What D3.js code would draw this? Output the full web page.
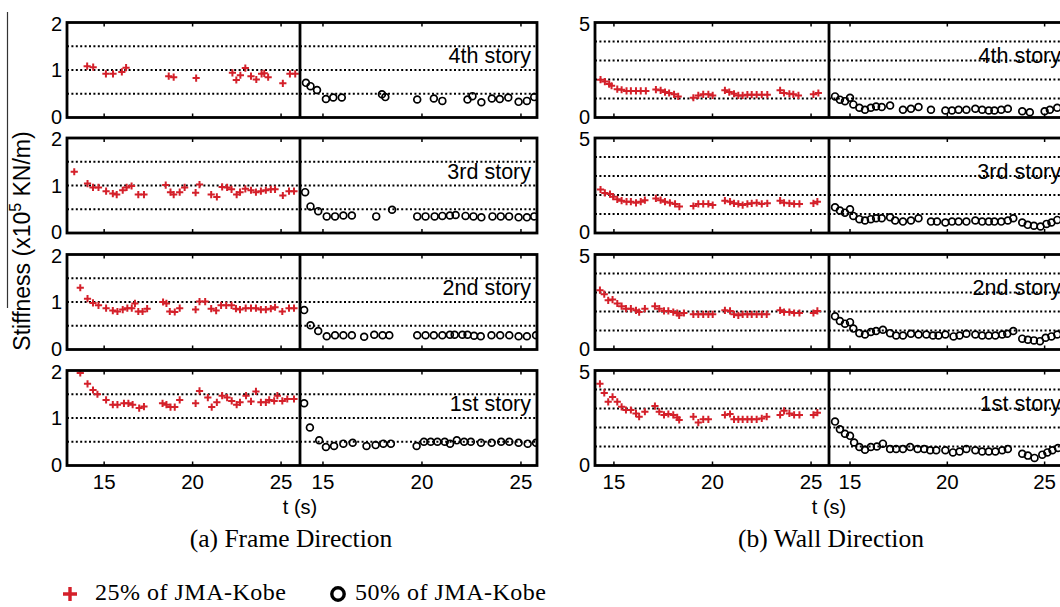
<!DOCTYPE html>
<html><head><meta charset="utf-8">
<script src="https://cdn.jsdelivr.net/npm/d3@7"></script>
<style>body{margin:0;background:#fff}svg{display:block}</style>
</head><body>
<svg id="chart" width="1060" height="607"></svg>
<script>
// ---- data: [time (s), stiffness (x10^5 kN/m)] ----
const stories = ["4th story", "3rd story", "2nd story", "1st story"];
const xTicks = [15, 20, 25];
const frameYTicks = [0, 1, 2];
const frameGrid = [0.5, 1, 1.5];
const wallYTicks = [0, 5];
const wallGrid = [1, 2, 3, 4];
const legendLabels = ["25% of JMA-Kobe", "50% of JMA-Kobe"];

// Frame direction, 25% JMA-Kobe
const frame25_4th = [[14.04,1.08],[14.38,1.06],[15.1,0.92],[15.5,0.92],[16.0,0.96],[16.24,1.05],[18.65,0.87],[18.93,0.85],[20.2,0.83],[22.25,0.94],[22.47,0.79],[22.7,0.89],[22.98,1.04],[23.3,0.87],[23.6,0.80],[23.9,0.92],[24.05,0.93],[24.27,0.85],[25.1,0.72],[25.5,0.92],[25.8,0.92]];
const frame25_3rd = [[13.31,1.29],[14.06,1.04],[14.37,0.96],[14.68,0.96],[15.11,0.88],[15.49,0.83],[15.71,0.81],[16.05,0.90],[16.27,0.96],[16.55,0.99],[16.93,0.81],[17.25,0.81],[18.48,1.01],[18.75,0.86],[18.93,0.81],[19.27,0.86],[19.55,0.96],[20.17,0.85],[20.39,1.02],[21.05,0.81],[21.37,0.76],[21.67,0.97],[21.95,0.96],[22.2,0.92],[22.49,0.81],[22.68,0.86],[22.98,0.93],[23.3,0.90],[23.58,0.86],[23.86,0.88],[24.14,0.90],[24.42,0.92],[24.66,0.92],[25.1,0.79],[25.45,0.88],[25.73,0.88]];
const frame25_2nd = [[13.65,1.30],[14.06,1.07],[14.37,0.98],[14.68,0.93],[15.11,0.87],[15.49,0.82],[15.75,0.80],[16.05,0.84],[16.31,0.87],[16.56,0.87],[16.74,0.97],[16.93,0.80],[17.17,0.80],[17.43,0.86],[18.33,1.0],[18.52,0.97],[18.71,0.80],[18.99,0.79],[19.27,0.87],[20.17,0.84],[20.39,1.01],[20.71,1.01],[21.05,0.86],[21.33,0.82],[21.61,0.93],[21.9,0.93],[22.2,0.93],[22.45,0.86],[22.68,0.84],[23.0,0.87],[23.3,0.87],[23.58,0.87],[23.86,0.84],[24.14,0.84],[24.42,0.86],[24.66,0.89],[25.07,0.80],[25.45,0.87],[25.73,0.87]];
const frame25_1st = [[13.65,1.95],[14.06,1.72],[14.37,1.59],[14.62,1.50],[15.11,1.38],[15.49,1.28],[15.75,1.28],[16.12,1.31],[16.37,1.31],[16.61,1.28],[16.98,1.21],[17.25,1.24],[18.3,1.31],[18.52,1.28],[18.75,1.23],[18.99,1.23],[19.27,1.38],[20.17,1.31],[20.39,1.57],[20.86,1.43],[21.08,1.23],[21.37,1.33],[21.67,1.47],[21.95,1.43],[22.21,1.36],[22.49,1.28],[22.68,1.33],[23.02,1.47],[23.3,1.35],[23.58,1.56],[23.86,1.33],[24.14,1.33],[24.33,1.38],[24.61,1.36],[24.79,1.47],[25.07,1.36],[25.35,1.40],[25.73,1.40]];

// Frame direction, 50% JMA-Kobe
const frame50_4th = [[14.14,0.73],[14.37,0.66],[14.7,0.58],[15.15,0.39],[15.52,0.42],[15.95,0.42],[17.98,0.49],[18.15,0.43],[19.76,0.38],[20.6,0.40],[21.03,0.35],[22.3,0.38],[22.55,0.45],[23.0,0.32],[23.53,0.40],[23.93,0.39],[24.36,0.42],[24.88,0.33],[25.3,0.35],[25.67,0.43]];
const frame50_3rd = [[14.1,0.86],[14.37,0.56],[14.76,0.46],[15.19,0.35],[15.61,0.35],[16.03,0.37],[16.46,0.37],[17.69,0.35],[18.49,0.49],[19.76,0.35],[20.18,0.35],[20.64,0.35],[21.03,0.36],[21.41,0.37],[21.7,0.38],[22.2,0.36],[22.6,0.35],[23.0,0.33],[23.56,0.35],[23.98,0.35],[24.4,0.35],[24.88,0.33],[25.3,0.33],[25.67,0.35]];
const frame50_2nd = [[14.05,0.83],[14.37,0.51],[14.76,0.39],[15.19,0.28],[15.61,0.30],[16.03,0.30],[16.46,0.30],[17.08,0.27],[17.59,0.31],[18.01,0.30],[18.35,0.30],[19.76,0.30],[20.18,0.30],[20.6,0.30],[21.03,0.30],[21.41,0.31],[21.65,0.31],[22.04,0.31],[22.3,0.31],[22.63,0.29],[22.97,0.28],[23.51,0.30],[23.95,0.30],[24.41,0.30],[24.88,0.28],[25.3,0.28],[25.76,0.30]];
const frame50_1st = [[14.05,1.31],[14.34,0.80],[14.81,0.53],[15.15,0.39],[15.56,0.41],[16.03,0.46],[16.5,0.48],[17.2,0.41],[17.66,0.43],[18.05,0.46],[18.43,0.46],[19.73,0.41],[20.1,0.50],[20.44,0.50],[20.78,0.50],[21.15,0.50],[21.42,0.46],[21.76,0.53],[22.13,0.50],[22.47,0.50],[22.98,0.48],[23.52,0.48],[24.0,0.50],[24.41,0.50],[24.88,0.48],[25.34,0.46],[25.76,0.48]];

// Wall direction, 25% JMA-Kobe
const wall25_4th = [[14.32,1.99],[14.54,1.89],[14.76,1.76],[14.88,1.67],[15.17,1.49],[15.39,1.46],[15.64,1.40],[15.86,1.40],[16.12,1.40],[16.36,1.40],[16.62,1.40],[17.13,1.47],[17.37,1.43],[17.59,1.34],[17.8,1.29],[18.05,1.22],[18.26,1.11],[19.03,1.04],[19.28,1.16],[19.53,1.22],[19.79,1.22],[20.01,1.16],[20.63,1.43],[20.85,1.34],[21.09,1.25],[21.31,1.16],[21.53,1.16],[21.77,1.20],[21.99,1.20],[22.24,1.20],[22.5,1.20],[22.78,1.20],[23.43,1.43],[23.63,1.29],[23.9,1.25],[24.1,1.22],[24.36,1.16],[25.12,1.22],[25.37,1.29]];
const wall25_3rd = [[14.32,2.29],[14.54,2.11],[14.8,2.05],[14.96,1.91],[15.17,1.77],[15.39,1.70],[15.64,1.65],[15.86,1.65],[16.12,1.59],[16.36,1.65],[16.57,1.73],[17.13,1.82],[17.37,1.73],[17.59,1.65],[17.84,1.59],[18.1,1.53],[18.32,1.39],[19.03,1.42],[19.28,1.53],[19.53,1.53],[19.79,1.53],[20.01,1.47],[20.63,1.70],[20.89,1.65],[21.09,1.56],[21.31,1.53],[21.53,1.47],[21.77,1.53],[21.99,1.56],[22.24,1.59],[22.5,1.53],[22.78,1.56],[23.43,1.70],[23.63,1.59],[23.9,1.56],[24.14,1.53],[24.41,1.53],[25.12,1.56],[25.32,1.65]];
const wall25_2nd = [[14.29,3.12],[14.51,2.91],[14.71,2.59],[14.93,2.63],[15.17,2.42],[15.39,2.28],[15.61,2.15],[15.86,2.15],[16.12,2.06],[16.28,1.97],[16.57,2.15],[17.08,2.28],[17.3,2.15],[17.54,2.03],[17.76,2.03],[18.01,1.97],[18.21,1.92],[18.31,1.80],[18.55,1.92],[19.03,1.85],[19.28,1.85],[19.53,1.85],[19.79,1.85],[20.01,1.85],[20.63,2.06],[20.89,2.03],[21.09,1.85],[21.31,1.80],[21.53,1.85],[21.77,1.85],[21.99,1.85],[22.24,1.85],[22.5,1.85],[22.75,1.85],[23.43,2.06],[23.63,1.97],[23.9,1.97],[24.14,1.92],[24.41,1.92],[25.12,1.92],[25.32,2.03]];
const wall25_1st = [[14.29,4.30],[14.51,3.82],[14.71,3.35],[14.93,3.61],[15.17,3.35],[15.39,3.09],[15.61,2.92],[15.86,2.92],[16.12,2.74],[16.28,2.57],[16.57,2.83],[17.08,3.13],[17.3,2.83],[17.54,2.66],[17.76,2.71],[18.01,2.66],[18.21,2.53],[18.31,2.40],[19.03,2.57],[19.28,2.26],[19.53,2.43],[19.79,2.43],[20.63,2.66],[20.89,2.71],[21.09,2.43],[21.31,2.43],[21.53,2.43],[21.77,2.43],[21.99,2.43],[22.24,2.43],[22.5,2.48],[22.75,2.57],[23.43,2.66],[23.63,2.88],[23.9,2.74],[24.14,2.66],[24.41,2.66],[25.12,2.66],[25.32,2.78]];

// Wall direction, 50% JMA-Kobe
const wall50_4th = [[14.23,1.11],[14.48,0.94],[14.74,0.86],[15.0,1.04],[15.17,0.69],[15.48,0.51],[15.77,0.41],[16.07,0.51],[16.34,0.58],[16.63,0.55],[17.06,0.63],[17.72,0.41],[18.13,0.46],[18.52,0.55],[19.16,0.41],[19.9,0.37],[20.24,0.37],[20.58,0.41],[20.98,0.41],[21.44,0.46],[21.79,0.41],[22.13,0.37],[22.42,0.37],[22.77,0.41],[23.11,0.46],[23.85,0.33],[24.24,0.28],[25.0,0.33],[25.27,0.41],[25.65,0.51]];
const wall50_3rd = [[14.23,1.35],[14.48,1.18],[14.74,1.07],[15.0,1.25],[15.17,0.90],[15.48,0.73],[15.77,0.66],[16.07,0.73],[16.34,0.78],[16.63,0.78],[17.06,0.83],[17.32,0.66],[17.72,0.60],[18.13,0.66],[18.52,0.78],[19.16,0.60],[19.47,0.60],[19.9,0.55],[20.24,0.60],[20.58,0.60],[20.98,0.60],[21.44,0.66],[21.79,0.60],[22.13,0.60],[22.42,0.60],[22.77,0.60],[23.11,0.66],[23.39,0.78],[23.85,0.55],[24.13,0.43],[24.45,0.38],[24.79,0.34],[25.1,0.48],[25.35,0.55],[25.65,0.69]];
const wall50_2nd = [[14.23,1.75],[14.48,1.50],[14.74,1.36],[15.0,1.44],[15.17,1.10],[15.48,0.86],[15.77,0.79],[16.07,0.92],[16.34,0.97],[16.69,1.04],[17.06,0.86],[17.37,0.74],[17.72,0.74],[18.13,0.83],[18.52,0.79],[18.92,0.79],[19.26,0.74],[19.55,0.74],[19.9,0.79],[20.32,0.69],[20.63,0.74],[20.98,0.83],[21.44,0.79],[21.79,0.74],[22.13,0.74],[22.47,0.74],[22.82,0.79],[23.08,0.83],[23.39,0.97],[23.85,0.57],[24.14,0.51],[24.45,0.48],[24.76,0.44],[25.05,0.62],[25.35,0.69],[25.65,0.79]];
const wall50_1st = [[14.23,2.31],[14.48,1.91],[14.74,1.67],[15.0,1.56],[15.21,1.21],[15.48,0.97],[15.77,0.83],[16.07,0.97],[16.38,1.00],[16.69,1.15],[17.06,0.87],[17.37,0.87],[17.72,0.87],[18.09,0.97],[18.47,0.87],[18.81,0.87],[19.12,0.80],[19.43,0.80],[19.9,0.80],[20.29,0.69],[20.63,0.74],[20.98,0.87],[21.44,0.80],[21.79,0.74],[22.13,0.74],[22.47,0.74],[22.82,0.80],[23.11,0.87],[23.85,0.62],[24.14,0.52],[24.48,0.40],[24.88,0.57],[25.14,0.69],[25.4,0.80],[25.69,0.92]];

// ---- layout ----
const RED = "#d4202a";
const rowTops = [22.5, 138, 254.5, 370.5];
const rowH = 95;
const sans = "'Liberation Sans', Arial, sans-serif";
const serif = "'Liberation Serif', 'Times New Roman', serif";

const panels = [
  { yMax: 2, yTicks: frameYTicks, grid: frameGrid, caption: "(a) Frame Direction", captionX: 291,
    left:  { x0: 67,  x1: 300, dom: [12.9, 26.07],  series: [frame25_4th, frame25_3rd, frame25_2nd, frame25_1st], mark: "plus" },
    right: { x0: 300, x1: 537, dom: [13.84, 25.81], series: [frame50_4th, frame50_3rd, frame50_2nd, frame50_1st], mark: "circle" } },
  { yMax: 5, yTicks: wallYTicks, grid: wallGrid, caption: "(b) Wall Direction", captionX: 831,
    left:  { x0: 595, x1: 829, dom: [14.04, 25.91], series: [wall25_4th, wall25_3rd, wall25_2nd, wall25_1st], mark: "plus" },
    right: { x0: 829, x1: 1067, dom: [13.92, 26.15], series: [wall50_4th, wall50_3rd, wall50_2nd, wall50_1st], mark: "circle" } }
];

const svg = d3.select("#chart");
const defs = svg.append("defs");
let clipId = 0;

function drawMarks(g, data, x, y, mark) {
  if (mark === "plus") {
    g.selectAll("path.pt").data(data).join("path")
      .attr("class", "pt")
      .attr("d", d => `M${x(d[0]) - 3.6},${y(d[1])}h7.2M${x(d[0])},${y(d[1]) - 3.6}v7.2`)
      .attr("stroke", RED).attr("stroke-width", 2).attr("fill", "none");
  } else {
    g.selectAll("circle.pt").data(data).join("circle")
      .attr("class", "pt")
      .attr("cx", d => x(d[0])).attr("cy", d => y(d[1])).attr("r", 3.4)
      .attr("stroke", "#000").attr("stroke-width", 1.7).attr("fill", "none");
  }
}

panels.forEach(p => {
  const subs = [p.left, p.right];
  rowTops.forEach((top, ri) => {
    const y = d3.scaleLinear().domain([0, p.yMax]).range([top + rowH, top]);
    subs.forEach(s => {
      const x = d3.scaleLinear().domain(s.dom).range([s.x0, s.x1]);
      const id = "clip" + (clipId++);
      defs.append("clipPath").attr("id", id).append("rect")
        .attr("x", s.x0).attr("y", top).attr("width", s.x1 - s.x0).attr("height", rowH);
      const g = svg.append("g").attr("clip-path", `url(#${id})`);
      // dotted grid
      g.selectAll("line.grid").data(p.grid).join("line")
        .attr("x1", s.x0).attr("x2", s.x1)
        .attr("y1", d => y(d)).attr("y2", d => y(d))
        .attr("stroke", "#000").attr("stroke-width", 2).attr("stroke-dasharray", "2,2.4");
      // inward x ticks on top and bottom edges
      g.selectAll("line.xt").data(xTicks).join("line")
        .attr("x1", d => x(d)).attr("x2", d => x(d))
        .attr("y1", top).attr("y2", top + 4).attr("stroke", "#000").attr("stroke-width", 1.5);
      g.selectAll("line.xb").data(xTicks).join("line")
        .attr("x1", d => x(d)).attr("x2", d => x(d))
        .attr("y1", top + rowH).attr("y2", top + rowH - 4).attr("stroke", "#000").attr("stroke-width", 1.5);
      drawMarks(g, s.series[ri], x, y, s.mark);
      // x tick labels under the bottom row
      if (ri === rowTops.length - 1) {
        svg.append("g").selectAll("text").data(xTicks).join("text")
          .attr("x", d => x(d)).attr("y", top + rowH + 16)
          .attr("text-anchor", "middle").attr("dominant-baseline", "central")
          .attr("font-family", sans).attr("font-size", 20.5).text(d => d);
      }
    });
    // story label
    svg.append("text")
      .attr("x", p.right.x1 - 6).attr("y", top + 40.5)
      .attr("text-anchor", "end").attr("font-family", sans).attr("font-size", 21.5)
      .text(stories[ri]);
    // y tick labels (end labels nudged inward so stacked rows stay apart)
    svg.append("g").selectAll("text").data(p.yTicks).join("text")
      .attr("x", p.left.x0 - 5)
      .attr("y", d => y(d) + (d === 0 ? -1 : d === p.yMax ? 1 : 0))
      .attr("text-anchor", "end").attr("dominant-baseline", "central")
      .attr("font-family", sans).attr("font-size", 20).text(d => d);
    // axes frame and divider
    svg.append("rect")
      .attr("x", p.left.x0).attr("y", top)
      .attr("width", p.right.x1 - p.left.x0).attr("height", rowH)
      .attr("fill", "none").attr("stroke", "#000").attr("stroke-width", 2.8);
    svg.append("line")
      .attr("x1", p.left.x1).attr("x2", p.left.x1)
      .attr("y1", top).attr("y2", top + rowH)
      .attr("stroke", "#000").attr("stroke-width", 2.8);
  });
  // axis title and caption
  svg.append("text").attr("x", p.left.x1).attr("y", 507)
    .attr("text-anchor", "middle").attr("dominant-baseline", "central")
    .attr("font-family", sans).attr("font-size", 20).text("t (s)");
  svg.append("text").attr("x", p.captionX).attr("y", 538)
    .attr("text-anchor", "middle").attr("dominant-baseline", "central")
    .attr("font-family", serif).attr("font-size", 25.5).text(p.caption);
});

// y axis title with its overline rule
svg.append("line").attr("x1", 7.5).attr("x2", 7.5).attr("y1", 12).attr("y2", 308)
  .attr("stroke", "#333").attr("stroke-width", 1.2);
const yTitle = svg.append("text")
  .attr("transform", "translate(30,241) rotate(-90)")
  .attr("text-anchor", "middle").attr("font-family", sans).attr("font-size", 23);
yTitle.append("tspan").text("Stiffness (x10");
yTitle.append("tspan").attr("font-size", 16).attr("dy", -9).text("5");
yTitle.append("tspan").attr("dy", 9).text(" KN/m)");

// legend
const lg = svg.append("g");
lg.append("path").attr("d", "M63,594h14M70,587v14").attr("stroke", RED).attr("stroke-width", 3.4);
lg.append("text").attr("x", 95).attr("y", 600)
  .attr("font-family", serif).attr("font-size", 24).attr("letter-spacing", 0.5).text(legendLabels[0]);
lg.append("circle").attr("cx", 338).attr("cy", 594).attr("r", 6.2)
  .attr("fill", "none").attr("stroke", "#000").attr("stroke-width", 3.4);
lg.append("text").attr("x", 355).attr("y", 600)
  .attr("font-family", serif).attr("font-size", 24).attr("letter-spacing", 0.5).text(legendLabels[1]);
</script>
</body></html>
